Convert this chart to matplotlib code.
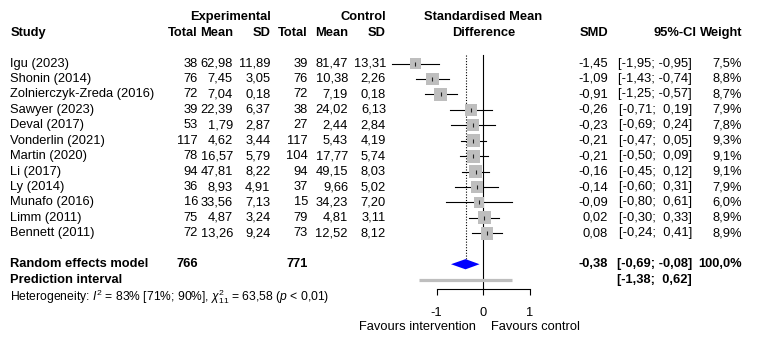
import matplotlib
matplotlib.use("Agg")
import matplotlib.pyplot as plt
from matplotlib.transforms import blended_transform_factory

plt.rcParams["font.family"] = ["Liberation Sans", "DejaVu Sans"]
plt.rcParams["axes.unicode_minus"] = False
plt.rcParams["mathtext.fontset"] = "custom"
plt.rcParams["mathtext.rm"] = "Liberation Sans"
plt.rcParams["mathtext.it"] = "Liberation Sans:italic"

studies = ["Igu (2023)", "Shonin (2014)", "Zolnierczyk-Zreda (2016)", "Sawyer (2023)",
           "Deval (2017)", "Vonderlin (2021)", "Martin (2020)", "Li (2017)", "Ly (2014)",
           "Munafo (2016)", "Limm (2011)", "Bennett (2011)"]
exp_n = [38, 76, 72, 39, 53, 117, 78, 94, 36, 16, 75, 72]
exp_mean = [62.98, 7.45, 7.04, 22.39, 1.79, 4.62, 16.57, 47.81, 8.93, 33.56, 4.87, 13.26]
exp_sd = [11.89, 3.05, 0.18, 6.37, 2.87, 3.44, 5.79, 8.22, 4.91, 7.13, 3.24, 9.24]
ctrl_n = [39, 76, 72, 38, 27, 117, 104, 94, 37, 15, 79, 73]
ctrl_mean = [81.47, 10.38, 7.19, 24.02, 2.44, 5.43, 17.77, 49.15, 9.66, 34.23, 4.81, 12.52]
ctrl_sd = [13.31, 2.26, 0.18, 6.13, 2.84, 4.19, 5.74, 8.03, 5.02, 7.20, 3.11, 8.12]
smd = [-1.45, -1.09, -0.91, -0.26, -0.23, -0.21, -0.21, -0.16, -0.14, -0.09, 0.02, 0.08]
ci_lo = [-1.95, -1.43, -1.25, -0.71, -0.69, -0.47, -0.50, -0.45, -0.60, -0.80, -0.30, -0.24]
ci_hi = [-0.95, -0.74, -0.57, 0.19, 0.24, 0.05, 0.09, 0.12, 0.31, 0.61, 0.33, 0.41]
weight = [7.5, 8.8, 8.7, 7.9, 7.8, 9.3, 9.1, 9.1, 7.9, 6.0, 8.9, 8.9]

re_total_exp = 766
re_total_ctrl = 771
re_smd, re_lo, re_hi = -0.38, -0.69, -0.08
pi_lo, pi_hi = -1.38, 0.62
het_i2, het_i2_lo, het_i2_hi = 83, 71, 90
het_q, het_df = 63.58, 11

W, H = 759, 352
FS = 9.3
GREY = "#bebebe"


def fmt(v):
    return f"{v:.2f}".replace(".", ",")


def fmt_ci(lo, hi):
    return f"[{fmt(lo):>5}; {fmt(hi):>5}]"


def row(py):
    # pixel y of the reference -> row units
    return (py - 63.5) / 15.44


fig = plt.figure(figsize=(W / 100, H / 100), dpi=100)
left_px, right_px, top_px, axis_px = 380, 590, 10, 289
ax = fig.add_axes([left_px / W, 1 - axis_px / H, (right_px - left_px) / W, (axis_px - top_px) / H])
ax.set_xlim((left_px - 483.3) / 46.8, (right_px - 483.3) / 46.8)
ax.set_ylim(row(axis_px), row(top_px))
ax.patch.set_alpha(0)
for side in ["left", "right", "top"]:
    ax.spines[side].set_visible(False)
ax.spines["bottom"].set_bounds(-1, 1)
ax.spines["bottom"].set_linewidth(0.8)
ax.set_yticks([])
ax.set_xticks([-1, 0, 1])
ax.set_xticklabels(["-1", "0", "1"])
ax.tick_params(axis="x", length=4.3, width=0.8, pad=8.6, labelsize=FS)

rows = list(range(len(studies)))
top_line = row(55)
ax.plot([0, 0], [top_line, row(axis_px)], color="black", lw=0.8, zorder=1)
ax.plot([re_smd, re_smd], [top_line, 13 - 0.33], color="black", lw=0.8, ls=(0, (1, 1.5)), zorder=1)

for i in rows:
    ax.plot([ci_lo[i], ci_hi[i]], [i, i], color="black", lw=0.8, zorder=2)
ax.scatter(smd, rows, s=[9.6 * w for w in weight], marker="s", color=GREY, linewidths=0, zorder=3)
ax.scatter(smd, rows, s=9, marker="|", color="#222222", linewidths=0.8, zorder=4)

ax.fill([re_lo, re_smd, re_hi, re_smd], [13, 13 - 0.33, 13, 13 + 0.33], color="#0000ff", lw=0, zorder=3)
ax.plot([pi_lo, pi_hi], [14, 14], color=GREY, lw=2.3, solid_capstyle="butt", zorder=2)

tr = blended_transform_factory(fig.transFigure, ax.transData)
trd = ax.transData


def put(px, y, s, ha="right", bold=False, size=FS):
    ax.text(px / W, y, s, transform=tr, ha=ha, va="center", fontsize=size,
            fontweight="bold" if bold else "normal", clip_on=False)


# headers
put(270.5, -3, "Experimental", bold=True)
put(386, -3, "Control", bold=True)
ax.text(0, -3, "Standardised Mean", transform=trd, ha="center", va="center", fontsize=FS, fontweight="bold")
ax.text(0, -2, "Difference", transform=trd, ha="center", va="center", fontsize=FS, fontweight="bold")
put(10.5, -2, "Study", ha="left", bold=True)
cols = [198, 233, 270.5, 308, 348, 386]
for px, name in zip(cols, ["Total", "Mean", "SD", "Total", "Mean", "SD"]):
    put(px, -2, name, bold=True)
put(608, -2, "SMD", bold=True)
put(697, -2, "95%-CI", bold=True)
put(742, -2, "Weight", bold=True)

for i in rows:
    put(10.5, i, studies[i], ha="left")
    put(cols[0], i, str(exp_n[i]))
    put(cols[1], i, fmt(exp_mean[i]))
    put(cols[2], i, fmt(exp_sd[i]))
    put(cols[3], i, str(ctrl_n[i]))
    put(cols[4], i, fmt(ctrl_mean[i]))
    put(cols[5], i, fmt(ctrl_sd[i]))
    put(608, i, fmt(smd[i]))
    put(692, i, fmt_ci(ci_lo[i], ci_hi[i]))
    put(742, i, f"{weight[i]:.1f}%".replace(".", ","))

put(10.5, 13, "Random effects model", ha="left", bold=True)
put(cols[0], 13, str(re_total_exp), bold=True)
put(cols[3], 13, str(re_total_ctrl), bold=True)
put(608, 13, fmt(re_smd), bold=True)
put(692, 13, fmt_ci(re_lo, re_hi), bold=True)
put(742, 13, "100,0%", bold=True)
put(10.5, 14, "Prediction interval", ha="left", bold=True)
put(692, 14, fmt_ci(pi_lo, pi_hi), bold=True)

het = (f"Heterogeneity: $\\mathit{{I}}^2$ = {het_i2}% [{het_i2_lo}%; {het_i2_hi}%], "
       f"$\\chi^2_{{{het_df}}}$ = {fmt(het_q)} ($\\mathit{{p}}$ < 0,01)")
put(10.5, row(296.7), het, ha="left", size=8.7)

ax.text(-0.15, row(326.7), "Favours intervention", transform=trd, ha="right", va="center", fontsize=FS)
ax.text(0.16, row(326.7), "Favours control", transform=trd, ha="left", va="center", fontsize=FS)

fig.savefig("out.png", dpi=100)
